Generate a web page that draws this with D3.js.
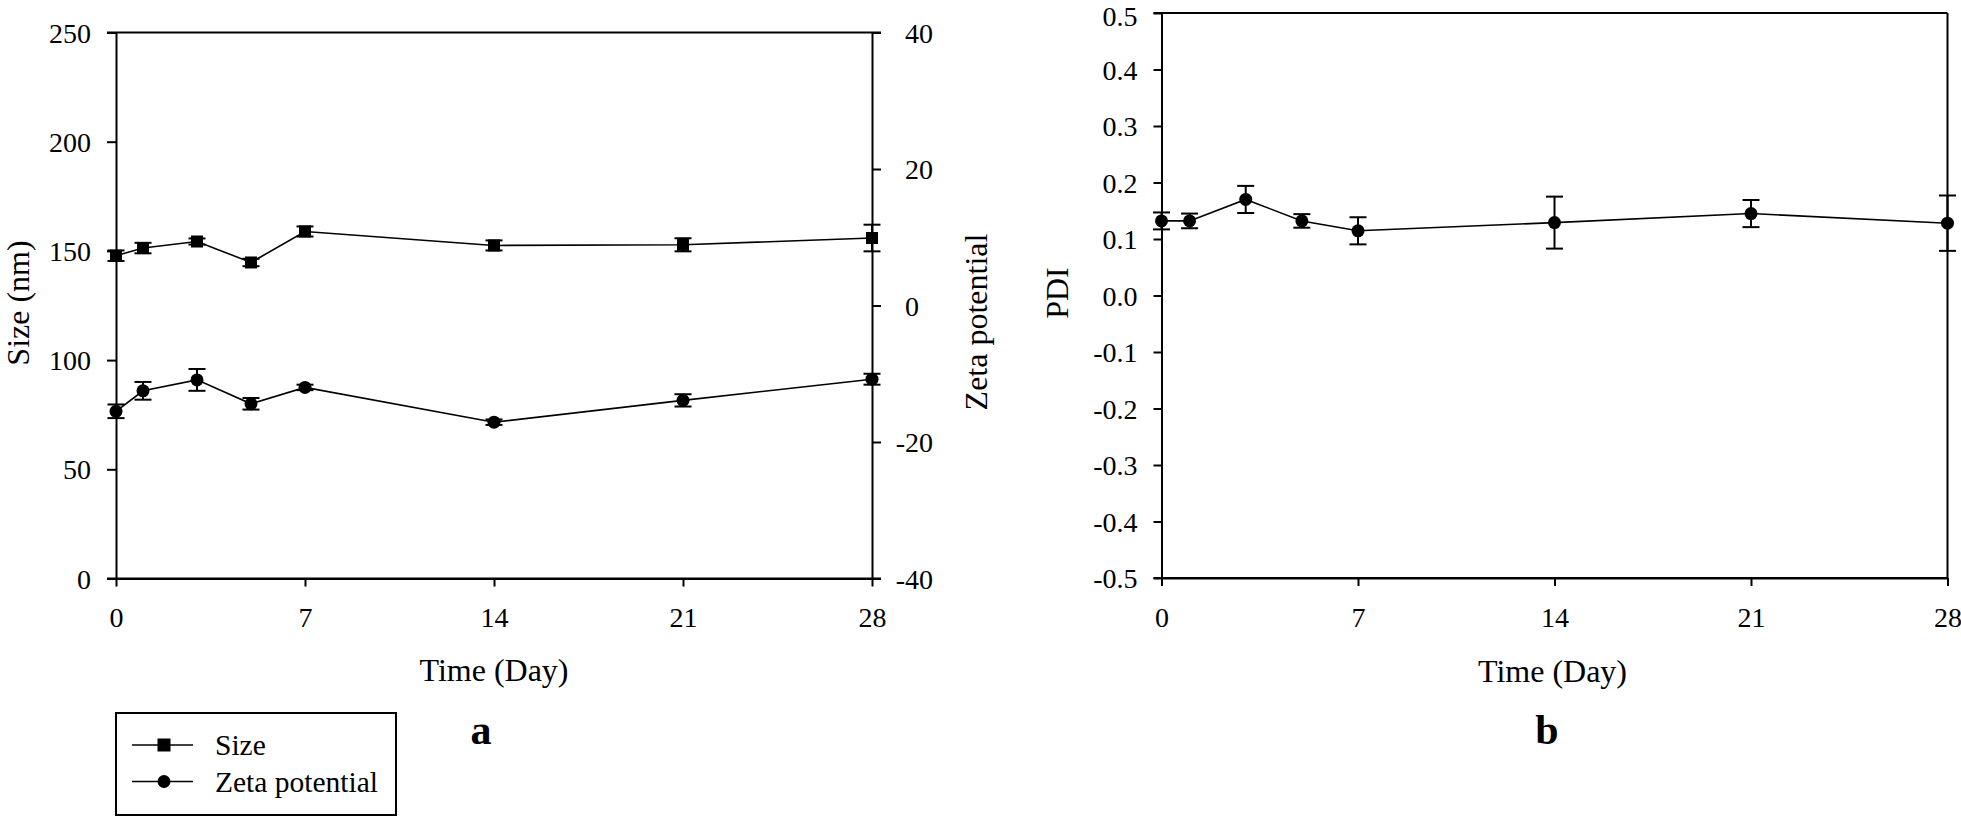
<!DOCTYPE html>
<html>
<head>
<meta charset="utf-8">
<script src="https://cdn.jsdelivr.net/npm/d3@7"></script>
<style>
  html, body { margin: 0; padding: 0; background: #fff; }
  svg { display: block; }
  text { font-family: "Liberation Serif", "Times New Roman", serif; fill: #000; }
</style>
</head>
<body>
<svg id="chart" width="1961" height="817"></svg>
<script>
// ---------- data ----------
const days = [0, 1, 3, 5, 7, 14, 21, 28];
const sizeMean = [147.8, 151.3, 154.3, 144.7, 158.9, 152.5, 152.8, 155.9];
const sizeErr  = [2.4, 2.4, 1.4, 1.7, 2.3, 2.3, 3.0, 6.1];
const zetaMean = [-15.5, -12.5, -10.9, -14.4, -12.0, -17.1, -13.9, -10.8];
const zetaErr  = [1.0, 1.3, 1.6, 0.85, 0.4, 0.4, 0.9, 0.8];
const pdiMean  = [0.132, 0.132, 0.170, 0.132, 0.1145, 0.129, 0.145, 0.128];
const pdiErr   = [0.015, 0.013, 0.024, 0.012, 0.024, 0.046, 0.024, 0.049];

const dayTicks  = [0, 7, 14, 21, 28];
const sizeTicks = [0, 50, 100, 150, 200, 250];
const zetaTicks = [-40, -20, 0, 20, 40];
const pdiTicks  = [-0.5, -0.4, -0.3, -0.2, -0.1, 0.0, 0.1, 0.2, 0.3, 0.4, 0.5];

const xTitle = "Time (Day)";
const sizeTitle = "Size (nm)";
const zetaTitle = "Zeta potential";
const pdiTitle = "PDI";
const legendLabels = ["Size", "Zeta potential"];
const panelLabels = ["a", "b"];

// ---------- layout ----------
const svg = d3.select("#chart");
const TICK_FS = 28, TITLE_FS = 32;

const A = { left: 116, right: 872, top: 32.5, bottom: 578.5 };
const B = { left: 1161.5, right: 1947.5, top: 13, bottom: 578 };

const xA = d3.scaleLinear().domain([0, 28]).range([A.left, A.right]);
const ySize = d3.scaleLinear().domain([0, 250]).range([A.bottom, A.top]);
const yZeta = d3.scaleLinear().domain([-40, 40]).range([A.bottom, A.top]);
const xB = d3.scaleLinear().domain([0, 28]).range([B.left, B.right]);
const yPdi = d3.scaleLinear().domain([-0.5, 0.5]).range([B.bottom, B.top]);

function styleAxis(g) {
  g.select(".domain").attr("stroke", "#000").attr("stroke-width", 2);
  g.selectAll(".tick line").attr("stroke", "#000").attr("stroke-width", 2);
  g.selectAll("text").attr("font-size", TICK_FS).attr("font-family", "Liberation Serif").attr("fill", "#000");
}

// ---------- panel a ----------
const ga = svg.append("g");
ga.append("line").attr("x1", A.left - 9).attr("x2", A.right + 9)
  .attr("y1", A.top).attr("y2", A.top).attr("stroke", "#000").attr("stroke-width", 2);
ga.append("line").attr("x1", A.left - 9).attr("x2", A.right + 9)
  .attr("y1", A.bottom).attr("y2", A.bottom).attr("stroke", "#000").attr("stroke-width", 2);

const axA_x = ga.append("g").attr("transform", `translate(0,${A.bottom})`)
  .call(d3.axisBottom(xA).tickValues(dayTicks).tickSize(8).tickSizeOuter(0).tickFormat(d3.format("d")));
styleAxis(axA_x);
axA_x.selectAll("text").attr("y", 48).attr("dy", null);

const axA_l = ga.append("g").attr("transform", `translate(${A.left},0)`)
  .call(d3.axisLeft(ySize).tickValues(sizeTicks).tickSize(9).tickSizeOuter(0).tickFormat(d3.format("d")));
styleAxis(axA_l);
axA_l.selectAll("text").attr("x", -25).attr("dy", "0.34em");

const axA_r = ga.append("g").attr("transform", `translate(${A.right},0)`)
  .call(d3.axisRight(yZeta).tickValues(zetaTicks).tickSize(9).tickSizeOuter(0).tickFormat(d => String(d)));
styleAxis(axA_r);
axA_r.selectAll("text").attr("x", d => d < 0 ? 33 - 0.333 * TICK_FS : 33).attr("dy", "0.34em").attr("text-anchor", "start");

// titles
ga.append("text").attr("transform", `translate(28.5,303) rotate(-90)`).attr("text-anchor", "middle")
  .attr("font-size", TITLE_FS).text(sizeTitle);
ga.append("text").attr("transform", `translate(987,322) rotate(-90)`).attr("text-anchor", "middle")
  .attr("font-size", TITLE_FS).text(zetaTitle);
ga.append("text").attr("x", (A.left + A.right) / 2).attr("y", 681).attr("text-anchor", "middle")
  .attr("font-size", TITLE_FS).text(xTitle);
ga.append("text").attr("x", 481).attr("y", 744).attr("text-anchor", "middle")
  .attr("font-size", 42).attr("font-weight", "bold").text(panelLabels[0]);

// series helper
function drawSeries(g, xs, ys, means, errs, shape) {
  const pts = days.map((d, i) => ({ d, m: means[i], e: errs[i] }));
  const line = d3.line().x(p => xs(p.d)).y(p => ys(p.m));
  g.append("path").datum(pts).attr("d", line).attr("fill", "none")
    .attr("stroke", "#000").attr("stroke-width", 1.6);
  const cap = 8.5;
  const eb = g.append("g").attr("stroke", "#000").attr("stroke-width", 2);
  pts.forEach(p => {
    const x = xs(p.d), y1 = ys(p.m + p.e), y2 = ys(p.m - p.e);
    eb.append("line").attr("x1", x).attr("x2", x).attr("y1", y1).attr("y2", y2);
    eb.append("line").attr("x1", x - cap).attr("x2", x + cap).attr("y1", y1).attr("y2", y1);
    eb.append("line").attr("x1", x - cap).attr("x2", x + cap).attr("y1", y2).attr("y2", y2);
  });
  if (shape === "square") {
    g.selectAll(null).data(pts).enter().append("rect")
      .attr("x", p => xs(p.d) - 6).attr("y", p => ys(p.m) - 6)
      .attr("width", 12).attr("height", 12).attr("fill", "#000");
  } else {
    g.selectAll(null).data(pts).enter().append("circle")
      .attr("cx", p => xs(p.d)).attr("cy", p => ys(p.m)).attr("r", 6.5).attr("fill", "#000");
  }
}

drawSeries(ga, xA, ySize, sizeMean, sizeErr, "square");
drawSeries(ga, xA, yZeta, zetaMean, zetaErr, "circle");

// legend
const lg = svg.append("g");
lg.append("rect").attr("x", 116).attr("y", 713).attr("width", 280).attr("height", 102)
  .attr("fill", "#fff").attr("stroke", "#000").attr("stroke-width", 2);
[745, 781.5].forEach((y, i) => {
  lg.append("line").attr("x1", 132).attr("x2", 193).attr("y1", y).attr("y2", y)
    .attr("stroke", "#000").attr("stroke-width", 1.6);
  if (i === 0) lg.append("rect").attr("x", 164 - 6.5).attr("y", y - 6.5).attr("width", 13).attr("height", 13).attr("fill", "#000");
  else lg.append("circle").attr("cx", 164).attr("cy", y).attr("r", 6.5).attr("fill", "#000");
  lg.append("text").attr("x", 215).attr("y", y + 10).attr("font-size", 29.5).text(legendLabels[i]);
});

// ---------- panel b ----------
const gb = svg.append("g");
gb.append("line").attr("x1", B.left - 8).attr("x2", B.right).attr("y1", B.top).attr("y2", B.top)
  .attr("stroke", "#000").attr("stroke-width", 2);
gb.append("line").attr("x1", B.right).attr("x2", B.right).attr("y1", B.top).attr("y2", B.bottom)
  .attr("stroke", "#000").attr("stroke-width", 2);
gb.append("line").attr("x1", B.left - 8).attr("x2", B.right).attr("y1", B.bottom).attr("y2", B.bottom)
  .attr("stroke", "#000").attr("stroke-width", 2);

const axB_x = gb.append("g").attr("transform", `translate(0,${B.bottom})`)
  .call(d3.axisBottom(xB).tickValues(dayTicks).tickSize(8).tickSizeOuter(0).tickFormat(d3.format("d")));
styleAxis(axB_x);
axB_x.selectAll("text").attr("y", 49).attr("dy", null);

const axB_l = gb.append("g").attr("transform", `translate(${B.left},0)`)
  .call(d3.axisLeft(yPdi).tickValues(pdiTicks).tickSize(8).tickSizeOuter(0).tickFormat(d => d.toFixed(1)));
styleAxis(axB_l);
axB_l.selectAll("text").attr("x", -24).attr("dy", "0.34em");
// keep the topmost label's box inside the picture
axB_l.selectAll("text").filter(d => d === 0.5).attr("dy", "0.43em");

gb.append("text").attr("transform", `translate(1068,293) rotate(-90)`).attr("text-anchor", "middle")
  .attr("font-size", TITLE_FS).text(pdiTitle);
gb.append("text").attr("x", (B.left + B.right) / 2 - 2).attr("y", 682).attr("text-anchor", "middle")
  .attr("font-size", TITLE_FS).text(xTitle);
gb.append("text").attr("x", 1547).attr("y", 744).attr("text-anchor", "middle")
  .attr("font-size", 42).attr("font-weight", "bold").text(panelLabels[1]);

drawSeries(gb, xB, yPdi, pdiMean, pdiErr, "circle");
</script>
</body>
</html>
